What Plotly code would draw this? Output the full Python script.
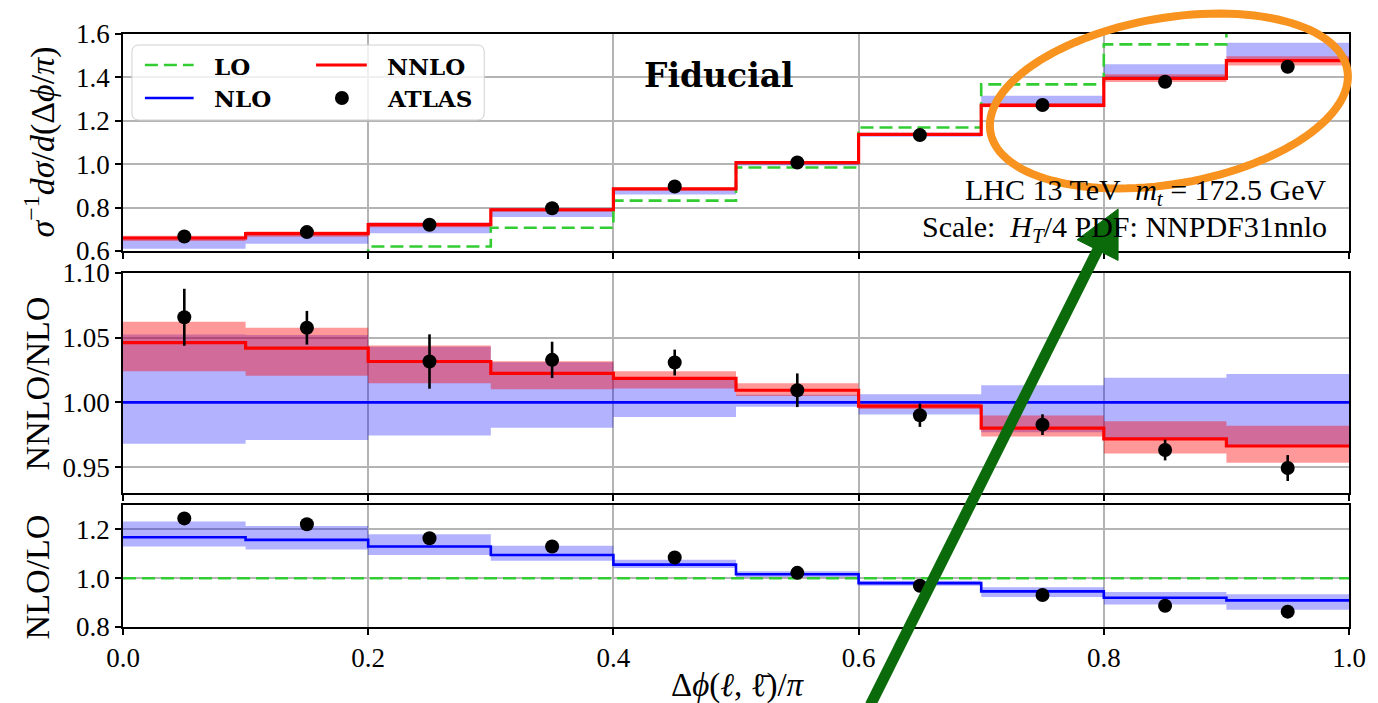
import math
import plotly.graph_objects as go

# ---------------- data ----------------
bin_edges = [0.0, 0.1, 0.2, 0.3, 0.4, 0.5, 0.6, 0.7, 0.8, 0.9, 1.0]
bin_centers = [0.05, 0.15, 0.25, 0.35, 0.45, 0.55, 0.65, 0.75, 0.85, 0.95]

# normalised distribution  sigma^-1 dsigma / d(dphi/pi)
lo_dist = [0.540, 0.564, 0.621, 0.707, 0.832, 0.985, 1.169, 1.368, 1.552, 1.676]
nnlo_dist = [0.660, 0.680, 0.722, 0.790, 0.886, 1.007, 1.137, 1.271, 1.395, 1.477]
nlo_band_low = [0.610, 0.633, 0.682, 0.757, 0.860, 0.994, 1.127, 1.268, 1.395, 1.477]
nlo_band_high = [0.664, 0.686, 0.730, 0.797, 0.886, 1.003, 1.145, 1.315, 1.461, 1.560]
nnlo_band_low = [0.646, 0.666, 0.710, 0.781, 0.879, 1.002, 1.132, 1.262, 1.379, 1.455]
nnlo_band_high = [0.670, 0.690, 0.731, 0.797, 0.891, 1.012, 1.140, 1.282, 1.414, 1.498]
atlas_dist = [0.667, 0.687, 0.721, 0.797, 0.897, 1.008, 1.134, 1.273, 1.380, 1.449]

# NNLO / NLO ratio panel
nlo_over_nlo = [1.0, 1.0, 1.0, 1.0, 1.0, 1.0, 1.0, 1.0, 1.0, 1.0]
nlo_rel_low = [0.968, 0.971, 0.9744, 0.9804, 0.9888, 0.9966, 0.9906, 0.977, 0.971, 0.966]
nlo_rel_high = [1.0525, 1.052, 1.043, 1.031, 1.018, 1.006, 1.0063, 1.0133, 1.019, 1.022]
nnlo_over_nlo = [1.0462, 1.042, 1.0316, 1.0225, 1.0185, 1.0094, 0.9971, 0.9802, 0.9718, 0.9663]
nnlo_rel_low = [1.024, 1.0206, 1.0149, 1.0102, 1.0107, 1.005, 0.995, 0.9736, 0.9606, 0.9533]
nnlo_rel_high = [1.0624, 1.0577, 1.0439, 1.0319, 1.024, 1.0149, 0.999, 0.9898, 0.9854, 0.982]
atlas_over_nlo = [1.0658, 1.0577, 1.0316, 1.0329, 1.0308, 1.0094, 0.9901, 0.9828, 0.9632, 0.9493]
atlas_over_nlo_err = [0.022, 0.013, 0.021, 0.014, 0.010, 0.013, 0.009, 0.008, 0.008, 0.010]

# NLO / LO ratio panel
lo_over_lo = [1.0, 1.0, 1.0, 1.0, 1.0, 1.0, 1.0, 1.0, 1.0, 1.0]
nlo_over_lo = [1.168, 1.157, 1.130, 1.095, 1.0556, 1.016, 0.980, 0.946, 0.920, 0.909]
nlo_over_lo_low = [1.130, 1.118, 1.095, 1.072, 1.042, 1.004, 0.969, 0.923, 0.892, 0.871]
nlo_over_lo_high = [1.232, 1.214, 1.180, 1.133, 1.076, 1.028, 0.990, 0.963, 0.943, 0.934]
atlas_over_lo = [1.245, 1.221, 1.164, 1.130, 1.085, 1.022, 0.969, 0.931, 0.887, 0.863]

x_ticks = [0.0, 0.2, 0.4, 0.6, 0.8, 1.0]
dist_ticks = [0.6, 0.8, 1.0, 1.2, 1.4, 1.6]
nnlo_ratio_ticks = [0.95, 1.00, 1.05, 1.10]
nlo_ratio_ticks = [0.8, 1.0, 1.2]

# ---------------- style ----------------
W, H = 1378, 703
ML, MR, MT, MB = 123, 23, 34, 76
FONT = "Liberation Serif"
BOLD_FONT = "DejaVu Serif"
GREEN = "#32cd32"
BLUE = "#0000ff"
RED = "#ff0000"
BLUE_FILL = "rgba(0,0,255,0.30)"
RED_FILL = "rgba(255,0,0,0.40)"
GRID = "#b4b4b4"


def px(x):
    """pixel column -> paper x"""
    return (x - ML) / (W - ML - MR)


def py(y):
    """pixel row -> paper y"""
    return (H - MB - y) / (H - MT - MB)


def step(vals):
    return list(vals) + [vals[-1]]


fig = go.Figure()


def band(lo, hi, fill, xa, ya):
    fig.add_trace(go.Scatter(x=bin_edges, y=step(lo), mode="lines", line=dict(width=0, shape="hv"),
                             xaxis=xa, yaxis=ya, showlegend=False, hoverinfo="skip"))
    fig.add_trace(go.Scatter(x=bin_edges, y=step(hi), mode="lines", line=dict(width=0, shape="hv"),
                             fill="tonexty", fillcolor=fill, xaxis=xa, yaxis=ya,
                             showlegend=False, hoverinfo="skip"))


def stepline(vals, color, width, xa, ya, dash="solid", name=None):
    fig.add_trace(go.Scatter(x=bin_edges, y=step(vals), mode="lines", name=name,
                             line=dict(color=color, width=width, shape="hv", dash=dash),
                             xaxis=xa, yaxis=ya, showlegend=False))


# top panel: normalised distribution
band(nlo_band_low, nlo_band_high, BLUE_FILL, "x", "y")
band(nnlo_band_low, nnlo_band_high, RED_FILL, "x", "y")
stepline(lo_dist, GREEN, 2.6, "x", "y", dash="13px,6px", name="LO")
stepline(nnlo_dist, RED, 3.2, "x", "y", name="NNLO")
fig.add_trace(go.Scatter(x=bin_centers, y=atlas_dist, mode="markers", name="ATLAS",
                         marker=dict(color="black", size=14), xaxis="x", yaxis="y", showlegend=False))

# middle panel: NNLO / NLO
band(nlo_rel_low, nlo_rel_high, BLUE_FILL, "x2", "y2")
stepline(nlo_over_nlo, BLUE, 2.6, "x2", "y2", name="NLO")
band(nnlo_rel_low, nnlo_rel_high, RED_FILL, "x2", "y2")
stepline(nnlo_over_nlo, RED, 3.2, "x2", "y2")
fig.add_trace(go.Scatter(x=bin_centers, y=atlas_over_nlo, mode="markers",
                         marker=dict(color="black", size=14),
                         error_y=dict(type="data", array=atlas_over_nlo_err, color="black",
                                      thickness=2.6, width=0),
                         xaxis="x2", yaxis="y2", showlegend=False))

# bottom panel: NLO / LO
band(nlo_over_lo_low, nlo_over_lo_high, BLUE_FILL, "x3", "y3")
stepline(lo_over_lo, GREEN, 2.6, "x3", "y3", dash="13px,6px")
stepline(nlo_over_lo, BLUE, 2.6, "x3", "y3")
fig.add_trace(go.Scatter(x=bin_centers, y=atlas_over_lo, mode="markers",
                         marker=dict(color="black", size=14), xaxis="x3", yaxis="y3", showlegend=False))

# ---------------- axes ----------------
tick_font = dict(family=FONT, size=27, color="black")
axis_common = dict(showline=True, linecolor="black", linewidth=1.8, mirror=True,
                   ticks="outside", ticklen=6, tickwidth=1.8, tickcolor="black",
                   showgrid=True, gridcolor=GRID, gridwidth=1.5, zeroline=False,
                   tickfont=tick_font)

dom_top = [py(251), py(34)]
dom_mid = [py(493), py(273)]
dom_bot = [py(627), py(505)]

fig.update_layout(
    xaxis=dict(domain=[0, 1], range=[0, 1], anchor="y", tickvals=x_ticks,
               showticklabels=False, **axis_common),
    yaxis=dict(domain=dom_top, range=[0.6, 1.6], anchor="x", tickvals=dist_ticks,
               tickformat=".1f", **axis_common),
    xaxis2=dict(domain=[0, 1], range=[0, 1], anchor="y2", tickvals=x_ticks,
                showticklabels=False, matches="x", **axis_common),
    yaxis2=dict(domain=dom_mid, range=[0.93, 1.10], anchor="x2", tickvals=nnlo_ratio_ticks,
                tickformat=".2f", **axis_common),
    xaxis3=dict(domain=[0, 1], range=[0, 1], anchor="y3", tickvals=x_ticks,
                tickformat=".1f", matches="x", **axis_common),
    yaxis3=dict(domain=dom_bot, range=[0.8, 1.3], anchor="x3", tickvals=nlo_ratio_ticks,
                tickformat=".1f", **axis_common),
    width=W, height=H,
    margin=dict(l=ML, r=MR, t=MT, b=MB),
    plot_bgcolor="white", paper_bgcolor="white",
    showlegend=False,
    font=dict(family=FONT, color="black"),
)

annotations = []
shapes = []


def text(x, y, s, size, anchor="center", font=FONT, angle=0, vanchor="middle"):
    annotations.append(dict(x=px(x), y=py(y), xref="paper", yref="paper", text=s,
                            showarrow=False, xanchor=anchor, yanchor=vanchor, textangle=angle,
                            font=dict(family=font, size=size, color="black")))


# axis titles
text(39, 142, "<i>σ</i><sup>−1</sup><i>dσ</i>/<i>d</i>(Δ<i>ϕ</i>/<i>π</i>)", 34, angle=-90)
text(37, 383, "NNLO/NLO", 34, angle=-90)
text(37, 577, "NLO/LO", 34, angle=-90)
text(741, 684,
     "Δ<i>ϕ</i>(<i>ℓ</i>, <span style=\"font-family:'DejaVu Serif'\">ℓ̄</span>)/<i>π</i>", 33)

# panel labels
text(722, 75, "<b>Fiducial</b>", 33, font=BOLD_FONT)
text(1335, 192, "LHC 13 TeV  <i>m<sub>t</sub></i> = 172.5 GeV", 30, anchor="right")
text(1335, 229, "Scale:  <i>H<sub>T</sub></i>/4 PDF: NNPDF31nnlo", 30, anchor="right")

# legend box
bx0, bx1, by0, by1, r = 132, 486, 45, 120, 7
legend_path = (
    f"M {px(bx0 + r)},{py(by0)} L {px(bx1 - r)},{py(by0)} "
    f"Q {px(bx1)},{py(by0)} {px(bx1)},{py(by0 + r)} L {px(bx1)},{py(by1 - r)} "
    f"Q {px(bx1)},{py(by1)} {px(bx1 - r)},{py(by1)} L {px(bx0 + r)},{py(by1)} "
    f"Q {px(bx0)},{py(by1)} {px(bx0)},{py(by1 - r)} L {px(bx0)},{py(by0 + r)} "
    f"Q {px(bx0)},{py(by0)} {px(bx0 + r)},{py(by0)} Z"
)
shapes.append(dict(type="path", path=legend_path, xref="paper", yref="paper", layer="above",
                   fillcolor="rgba(255,255,255,0.8)", line=dict(color="#d0d0d0", width=1)))


def legend_line(x0, x1, y, color, width, dash="solid"):
    shapes.append(dict(type="line", xref="paper", yref="paper", layer="above",
                       x0=px(x0), x1=px(x1), y0=py(y), y1=py(y),
                       line=dict(color=color, width=width, dash=dash)))


legend_line(145, 194, 65, GREEN, 2.6, dash="13px,6px")
legend_line(145, 194, 98, BLUE, 2.6)
legend_line(317, 368, 65, RED, 3.2)
shapes.append(dict(type="circle", xref="paper", yref="paper", layer="above",
                   x0=px(336), x1=px(350), y0=py(105), y1=py(91),
                   fillcolor="black", line=dict(color="black", width=0)))
text(212, 66, "<b>LO</b>", 23, anchor="left", font=BOLD_FONT)
text(212, 99, "<b>NLO</b>", 23, anchor="left", font=BOLD_FONT)
text(386, 66, "<b>NNLO</b>", 23, anchor="left", font=BOLD_FONT)
text(386, 99, "<b>ATLAS</b>", 23, anchor="left", font=BOLD_FONT)

# highlight ellipse around the high-angle bins
ecx, ecy, ea, eb, eth = 1174, 101, 182, 83, math.radians(9.8)
pts = []
for i in range(121):
    t = 2 * math.pi * i / 120
    ex = ecx + ea * math.cos(t) * math.cos(eth) - eb * math.sin(t) * math.sin(eth)
    ey = ecy - (ea * math.cos(t) * math.sin(eth) + eb * math.sin(t) * math.cos(eth))
    pts.append(f"{px(ex):.5f},{py(ey):.5f}")
shapes.append(dict(type="path", path="M " + " L ".join(pts) + " Z", xref="paper", yref="paper",
                   layer="above", line=dict(color="#f7931e", width=8)))

# pointer arrow
tail = (874, 705)
tip = (1123, 209)
dx, dy = tip[0] - tail[0], tip[1] - tail[1]
dl = math.hypot(dx, dy)
ux, uy = dx / dl, dy / dl
head_len, head_half = 46, 23
base = (tip[0] - head_len * ux, tip[1] - head_len * uy)
c1 = (base[0] + head_half * (-uy), base[1] + head_half * ux)
c2 = (base[0] - head_half * (-uy), base[1] - head_half * ux)
ARROW = "#0b6b0b"
shapes.append(dict(type="line", xref="paper", yref="paper", layer="above",
                   x0=px(tail[0]), y0=py(tail[1]), x1=px(base[0] + 4 * ux), y1=py(base[1] + 4 * uy),
                   line=dict(color=ARROW, width=11)))
shapes.append(dict(type="path", xref="paper", yref="paper", layer="above",
                   path=f"M {px(tip[0])},{py(tip[1])} L {px(c1[0])},{py(c1[1])} "
                        f"L {px(c2[0])},{py(c2[1])} Z",
                   fillcolor=ARROW, line=dict(color=ARROW, width=1)))

fig.update_layout(annotations=annotations, shapes=shapes)

fig.write_html("out.html")
